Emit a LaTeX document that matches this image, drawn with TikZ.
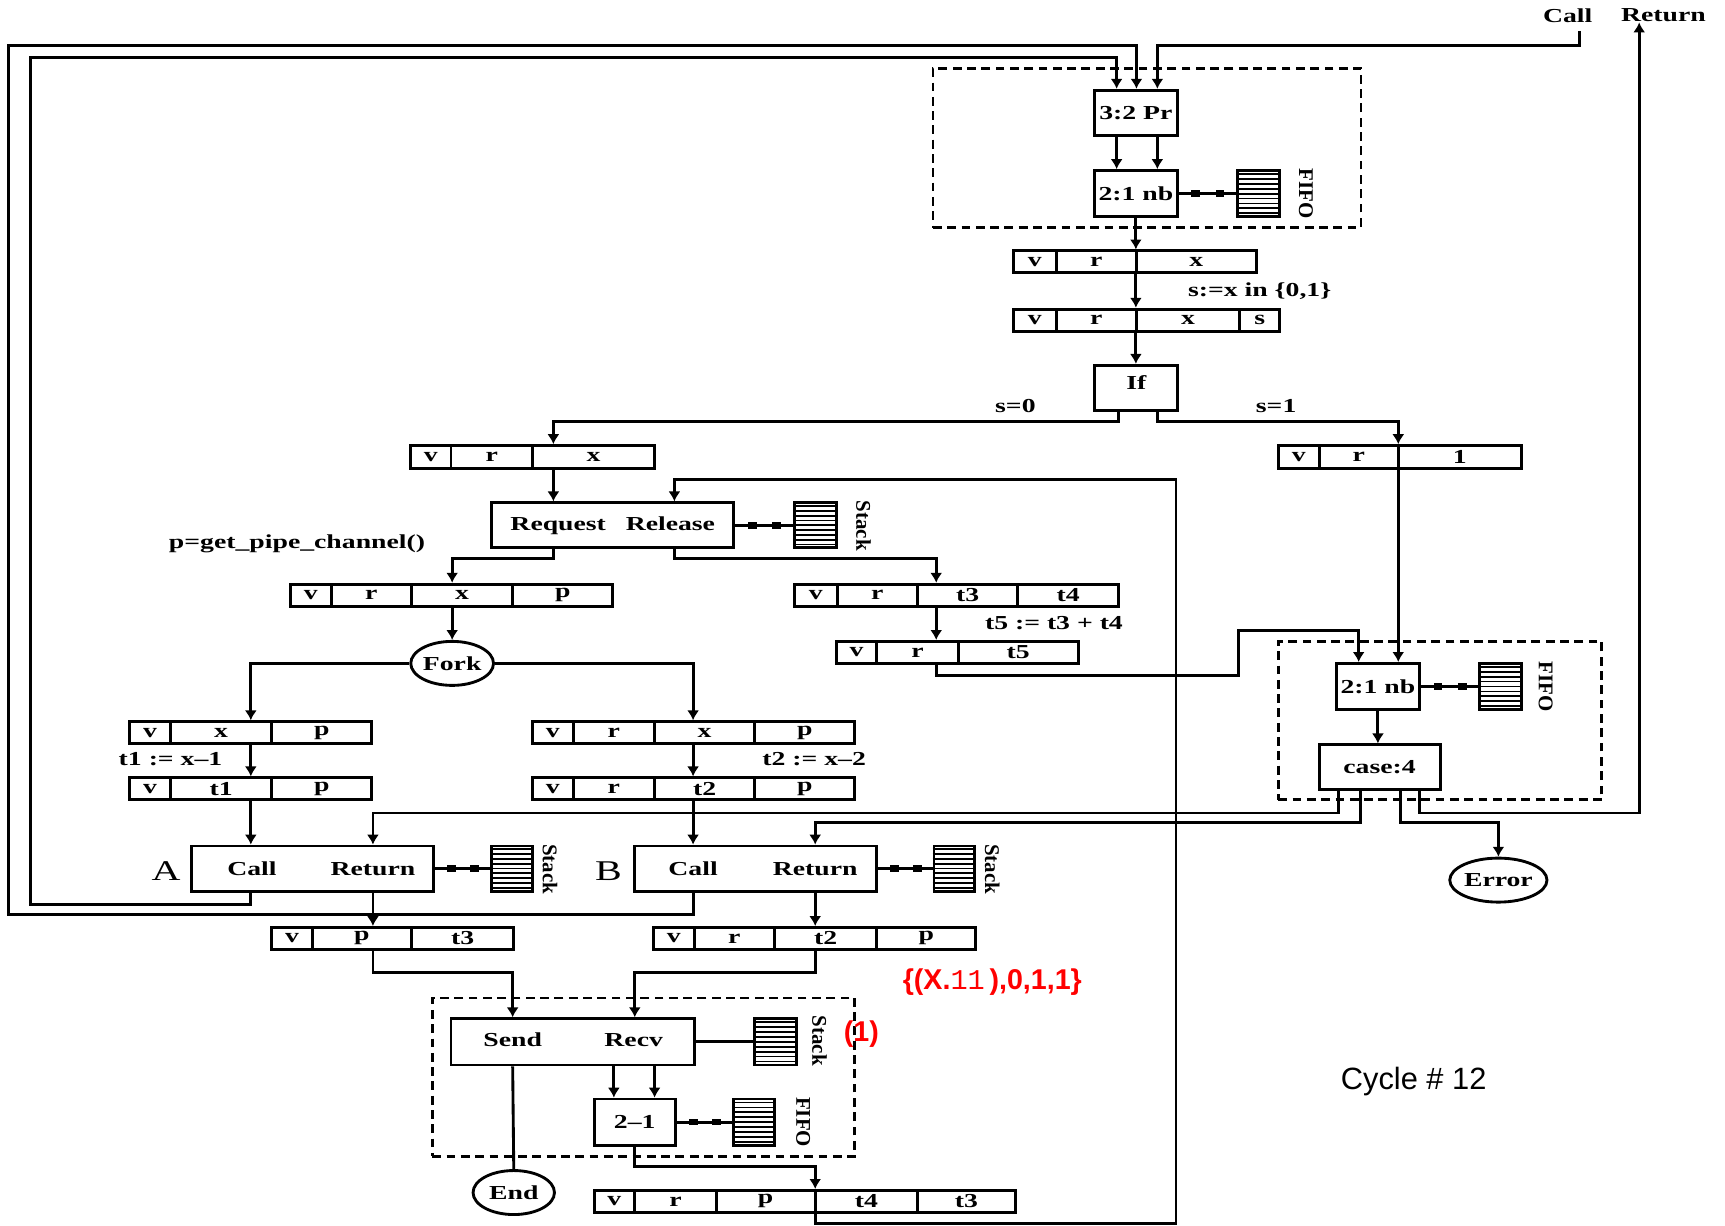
\documentclass[tikz,border=0pt]{standalone}
\usepackage{fontspec}
\usepackage{graphicx}
\setmainfont{Liberation Serif}
\newfontfamily\cfont[FakeStretch=1.4]{Liberation Serif}
\newfontfamily\rfont{Liberation Serif}
\newfontfamily\sfont{Liberation Sans}
\newfontfamily\mfont{Liberation Mono}
\usetikzlibrary{arrows.meta,shapes.geometric,calc}

\tikzset{
 bx/.style={draw, line width=1.3pt, inner sep=0pt, font=\cfont\bfseries\fontsize{9}{10}\selectfont},
 txt/.style={inner sep=0pt, font=\cfont\bfseries\fontsize{9}{10}\selectfont},
 rtxt/.style={inner sep=0pt, rotate=-90, font=\rfont\bfseries\fontsize{9.5}{10}\selectfont},
 bigtxt/.style={inner sep=0pt, font=\cfont\fontsize{13}{14}\selectfont},
 conn/.style={line width=1.3pt},
 arr/.style={conn, -{Latex[length=4.5pt,width=5.5pt]}},
 dbox/.style={line width=1.2pt, dash pattern=on 4pt off 2.5pt},
 ell/.style={draw, ellipse, line width=1.3pt, inner sep=0pt, minimum width=37pt, minimum height=20pt, font=\cfont\bfseries\fontsize{9}{10}\selectfont},
 sq/.style={fill, inner sep=0pt, minimum width=4pt, minimum height=3pt},
 redtxt/.style={inner sep=0pt, text=red, font=\sfont\bfseries\fontsize{13}{15}\selectfont},
 cyctxt/.style={inner sep=0pt, font=\sfont\fontsize{14}{16}\selectfont},
}

% box node from corners (x1,y1)-(x2,y2) in picture units
\newcommand\bxn[7][]{%
  \node[bx,#1, minimum width={(#5-#3)*0.5pt}, minimum height={(#6-#4)*0.5pt}] (#2) at ({(#3+#5)/2},{(#4+#6)/2}) {#7};%
}
\newcommand\rec[4]{%
  \foreach \xa/\xb/\ct [count=\i] in {#4} {%
    \bxn{#1-\i}{\xa}{#2}{\xb}{#3}{\ct}%
  }%
}
\newcommand\stk[5]{%
  \bxn{#1}{#2}{#3}{#4}{#5}{}
  \foreach \k in {1,...,9}{%
    \draw[line width=0.8pt] ($(#1.north west)!\k/10!(#1.south west)$) -- ($(#1.north east)!\k/10!(#1.south east)$);%
  }%
}
\newcommand\lnk[2]{\draw[conn] (#1.east) -- node[sq,pos=0.3]{} node[sq,pos=0.72]{} (#2.west);}

\begin{document}
\begin{tikzpicture}[x=0.5pt,y=-0.5pt]
\fill[white] (0,0) rectangle (1568,1114);
\useasboundingbox (0,0) rectangle (1568,1114);

% ---------- top group
\bxn[dbox]{g1}{848}{62}{1237}{207}{}
\bxn{pr32}{995}{82}{1070}{123}{3:2 Pr}
\bxn{nb1}{995}{155}{1070}{197}{2:1 nb}
\stk{fifo1}{1125}{155}{1163}{197}
\node[rtxt] (fifo1l) at (1187,176) {FIFO};
\lnk{nb1}{fifo1}
\draw[arr] (pr32.south -| 1015,0) -- (nb1.north -| 1015,0);
\draw[arr] (pr32.south -| 1052,0) -- (nb1.north -| 1052,0);

\node[txt] (callL) at (1425,14) {Call};
\node[txt] (retL) at (1512,14) {Return};

\rec{r1}{228}{248}{921/960/v, 960/1033/r, 1033/1142/x}
\rec{r2}{281}{301}{921/960/v, 960/1033/r, 1033/1127/x, 1127/1163/s}
\node[txt] (lbls) at (1145,265) {s:=x in \{0,1\}};
\bxn{If}{995}{332}{1070}{373}{}
\node[txt] (iftxt) at (1033,348) {If};
\node[txt] (s0) at (923,369) {s=0};
\node[txt] (s1) at (1160,369) {s=1};

\draw[arr] (nb1.south) -- (nb1.south |- r1-1.north);
\draw[arr] (nb1.south |- r1-1.south) -- (nb1.south |- r2-1.north);
\draw[arr] (nb1.south |- r2-1.south) -- (If.north);

\rec{rL}{405}{426}{373/410/v, 410/484/r, 484/595/x}
\rec{rR}{405}{426}{1162/1199/v, 1199/1271/r, 1271/1383/1}
\draw[arr] (If.south -| 1017,0) -- (1017,383) -- (503,383) -- (rL-3.north -| 503,0);
\draw[arr] (If.south -| 1052,0) -- (1052,383) -- (1271,383) -- (rR-3.north -| 1271,0);

% ---------- request/release
\bxn{RR}{447}{457}{667}{498}{Request\quad Release}
\stk{stRR}{722}{457}{760}{498}
\node[rtxt] (stRRl) at (785,478) {Stack};
\lnk{RR}{stRR}
\draw[arr] (rL-3.south -| 503,0) -- (RR.north -| 503,0);
\node[txt] (pipe) at (270,494) {p=get\_pipe\_channel()};

\rec{rP}{531}{551}{264/301/v, 301/374/r, 374/466/x, 466/557/p}
\rec{rT}{531}{551}{722/761/v, 761/834/r, 834/925/t3, 925/1017/t4}
\draw[arr] (RR.south -| 503,0) -- (503,508) -- (411,508) -- (rP-3.north -| 411,0);
\draw[arr] (RR.south -| 613,0) -- (613,508) -- (851,508) -- (rT-3.north -| 851,0);

\node[ell] (fork) at (411,603) {Fork};
\draw[arr] (rP-3.south -| 411,0) -- (fork.north);

\node[txt] (t5l) at (958,566) {t5 := t3 + t4};
\rec{rT5}{583}{603}{760/797/v, 797/871/r, 871/980/t5}
\draw[arr] (rT-3.south -| 851,0) -- (rT5-2.north -| 851,0);

% ---------- right group
\bxn[dbox]{g2}{1162}{583}{1456}{727}{}
\bxn{nb2}{1215}{603}{1290}{645}{2:1 nb}
\stk{fifo2}{1345}{603}{1383}{645}
\node[rtxt] (fifo2l) at (1405,624) {FIFO};
\lnk{nb2}{fifo2}
\bxn{case4}{1199}{677}{1309}{718}{case:4}
\draw[arr] (nb2.south) -- (case4.north -| nb2.south);
\draw[arr] (rR-3.south -| 1271,0) -- (nb2.north -| 1271,0);
\draw[arr] (rT5-2.south -| 851,0) -- (851,614) -- (1126,614) -- (1126,573) -- (1235,573) -- (nb2.north -| 1235,0);
\node[ell] (err) at (1362,800) {Error};

% ---------- fork branches
\rec{rA1}{656}{676}{118/155/v, 155/247/x, 247/338/p}
\rec{rA2}{707}{727}{118/155/v, 155/247/t1, 247/338/p}
\rec{rB1}{656}{676}{484/521/v, 521/595/r, 595/686/x, 686/777/p}
\rec{rB2}{707}{727}{484/521/v, 521/595/r, 595/686/t2, 686/777/p}
\node[txt] (t1l) at (155,690) {t1 := x–1};
\node[txt] (t2l) at (740,690) {t2 := x–2};
\draw[arr] (fork.west) -- (228,603) -- (rA1-2.north -| 228,0);
\draw[arr] (fork.east) -- (630,603) -- (rB1-3.north -| 630,0);
\draw[arr] (rA1-2.south -| 228,0) -- (rA2-2.north -| 228,0);
\draw[arr] (rB1-3.south -| 630,0) -- (rB2-3.north -| 630,0);

% ---------- A and B
\bxn{Abox}{174}{769}{394}{810}{}
\node[txt] (Acall) at (229,790) {Call};
\node[txt] (Aret) at (339,790) {Return};
\node[bigtxt] (Alab) at (151,792) {A};
\stk{stA}{447}{769}{484}{810}
\node[rtxt] (stAl) at (500,790) {Stack};
\lnk{Abox}{stA}

\bxn{Bbox}{577}{769}{797}{810}{}
\node[txt] (Bcall) at (630,790) {Call};
\node[txt] (Bret) at (741,790) {Return};
\node[bigtxt] (Blab) at (553,792) {B};
\stk{stB}{849}{769}{886}{810}
\node[rtxt] (stBl) at (902,790) {Stack};
\lnk{Bbox}{stB}

\draw[arr] (rA2-2.south -| 228,0) -- (Abox.north -| 228,0);
\draw[arr] (rB2-3.south -| 630,0) -- (Bbox.north -| 630,0);

% case:4 outputs
\draw[arr] (case4.south -| 1217,0) -- (1217,739) -- (339,739) -- (Abox.north -| 339,0);
\draw[arr] (case4.south -| 1237,0) -- (1237,748) -- (741,748) -- (Bbox.north -| 741,0);
\draw[arr] (case4.south -| 1273,0) -- (1273,748) -- (1362,748) -- (err.north);
\draw[arr] (case4.south -| 1290,0) -- (1290,739) -- (1490,739) -- (retL.south -| 1490,0);

% outer call loops
\coordinate (callend) at (1436,28);
\draw[arr] (callend) -- (1436,41) -- (1052,41) -- (pr32.north -| 1052,0);
\draw[arr] (Bbox.south -| 630,0) -- (630,831) -- (8,831) -- (8,41) -- (1033,41) -- (pr32.north -| 1033,0);
\draw[arr] (Abox.south -| 228,0) -- (228,822) -- (28,822) -- (28,52) -- (1015,52) -- (pr32.north -| 1015,0);

% ---------- results of A and B
\rec{rA3}{843}{863}{247/284/v, 284/374/p, 374/467/t3}
\rec{rB3}{843}{863}{594/631/v, 631/704/r, 704/797/t2, 797/887/p}
\draw[arr] (Abox.south -| 339,0) -- (rA3-2.north -| 339,0);
\draw[arr] (Bbox.south -| 741,0) -- (rB3-3.north -| 741,0);

% ---------- bottom group
\bxn[dbox]{g3}{393}{907}{777}{1051}{}
\bxn{SR}{410}{926}{631}{968}{}
\node[txt] (send) at (466,945) {Send};
\node[txt] (recv) at (576,945) {Recv};
\stk{stSR}{686}{926}{724}{968}
\node[rtxt] (stSRl) at (745,946) {Stack};
\draw[conn] (SR.east) -- (stSR.west);
\bxn{two1}{540}{999}{614}{1041}{2–1}
\stk{fifo3}{667}{999}{704}{1041}
\node[rtxt] (fifo3l) at (730,1020) {FIFO};
\lnk{two1}{fifo3}
\node[ell] (endn) at (467,1084) {End};

\draw[arr] (rA3-2.south -| 339,0) -- (339,884) -- (466,884) -- (SR.north -| 466,0);
\draw[arr] (rB3-3.south -| 741,0) -- (741,884) -- (577,884) -- (SR.north -| 577,0);
\draw[conn] (SR.south -| 466,0) -- (endn.north);
\draw[arr] (SR.south -| 558,0) -- (two1.north -| 558,0);
\draw[arr] (SR.south -| 595,0) -- (two1.north -| 595,0);

\rec{rE}{1082}{1102}{540/577/v, 577/651/r, 651/741/p, 741/834/t4, 834/923/t3}
\draw[arr] (two1.south) -- (577,1060) -- (741,1060) -- (rE-4.north -| 741,0);
\draw[arr] (rE-4.south -| 741,0) -- (741,1112) -- (1069,1112) -- (1069,436) -- (613,436) -- (RR.north -| 613,0);

% ---------- annotations
\node[redtxt] (tag) at (902,893) {\{(X.{\mfont\mdseries 11}\,),0,1,1\}};
\node[redtxt] (one) at (783,940) {(1)};
\node[cyctxt] (cyc) at (1285,983) {Cycle \# 12};
\end{tikzpicture}
\end{document}
